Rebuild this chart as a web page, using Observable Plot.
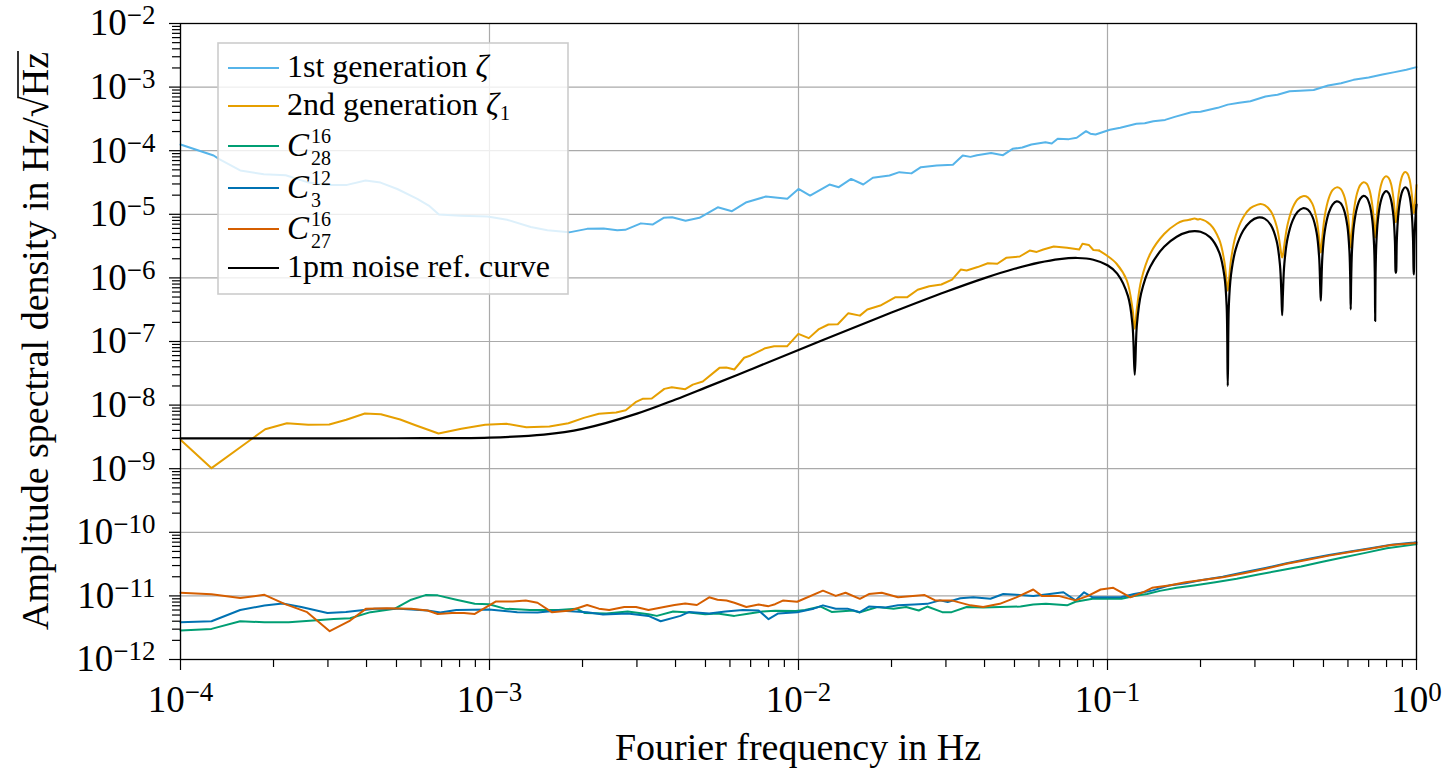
<!DOCTYPE html>
<html><head><meta charset="utf-8">
<script src="https://cdn.jsdelivr.net/npm/d3@7"></script>
<script src="https://cdn.jsdelivr.net/npm/@observablehq/plot@0.6"></script>
<style>
html,body{margin:0;padding:0;background:#fff;}
#chart svg{display:block}
</style></head><body><div id="chart"></div>
<script>
// ---------------- data: [frequency in Hz, ASD in Hz/sqrt(Hz)] ----------------
const gen1 = [[1e-4,1.25e-4],[1.28e-4,8.4e-5],[1.33e-4,7.45e-5],[1.56e-4,4.9e-5],[1.86e-4,4.25e-5],[2.19e-4,4.1e-5],[2.57e-4,3.2e-5],[2.98e-4,2.9e-5],[3.46e-4,2.9e-5],[3.97e-4,3.4e-5],[4.44e-4,3.15e-5],[5.03e-4,2.5e-5],[5.84e-4,1.75e-5],[6.36e-4,1.37e-5],[6.86e-4,9.9e-6],[8.05e-4,9.5e-6],[9.85e-4,9.2e-6],[1.14e-3,8.2e-6],[1.36e-3,6.3e-6],[1.54e-3,5.6e-6],[1.81e-3,5.2e-6],[2.07e-3,5.9e-6],[2.34e-3,6.0e-6],[2.59e-3,5.6e-6],[2.75e-3,5.7e-6],[3.09e-3,7.2e-6],[3.37e-3,6.9e-6],[3.66e-3,8.8e-6],[3.9e-3,9.0e-6],[4.31e-3,7.9e-6],[4.78e-3,8.8e-6],[5.48e-3,1.29e-5],[6.09e-3,1.12e-5],[6.79e-3,1.55e-5],[7.84e-3,1.9e-5],[9.2e-3,1.75e-5],[1.0e-2,2.5e-5],[1.09e-2,1.97e-5],[1.26e-2,2.94e-5],[1.35e-2,2.67e-5],[1.48e-2,3.6e-5],[1.62e-2,2.94e-5],[1.74e-2,3.75e-5],[1.97e-2,4.07e-5],[2.12e-2,4.6e-5],[2.32e-2,4.4e-5],[2.49e-2,5.5e-5],[2.8e-2,5.85e-5],[3.16e-2,6.0e-5],[3.4e-2,8.4e-5],[3.6e-2,8.0e-5],[3.78e-2,8.5e-5],[4.2e-2,9.2e-5],[4.59e-2,8.5e-5],[4.93e-2,1.07e-4],[5.3e-2,1.12e-4],[5.67e-2,1.25e-4],[6.3e-2,1.36e-4],[6.6e-2,1.3e-4],[6.9e-2,1.54e-4],[7.5e-2,1.52e-4],[7.95e-2,1.6e-4],[8.52e-2,2.03e-4],[8.8e-2,1.85e-4],[9.15e-2,1.8e-4],[0.1018,2.13e-4],[0.11,2.3e-4],[0.124,2.65e-4],[0.132,2.7e-4],[0.1407,2.9e-4],[0.1536,3.05e-4],[0.165,3.4e-4],[0.1868,4.03e-4],[0.2,4.1e-4],[0.2274,4.72e-4],[0.245,5.3e-4],[0.267,5.67e-4],[0.29,6.0e-4],[0.3245,7.1e-4],[0.355,7.6e-4],[0.3885,8.6e-4],[0.42,8.8e-4],[0.4647,9.0e-4],[0.5176,1.06e-3],[0.57,1.15e-3],[0.6254,1.3e-3],[0.7,1.42e-3],[0.7758,1.58e-3],[0.85,1.72e-3],[0.9273,1.87e-3],[1.0,2.06e-3]];

// 2nd generation, low-frequency part (linear segments) and high-frequency lobes
const gen2Low = [[1e-4,2.85e-9],[1.26e-4,1.02e-9],[1.88e-4,4.18e-9],[2.21e-4,5.19e-9],[2.59e-4,4.9e-9],[3.03e-4,4.95e-9],[3.44e-4,5.87e-9],[3.95e-4,7.38e-9],[4.45e-4,7.2e-9],[5.14e-4,5.94e-9],[5.76e-4,4.83e-9],[6.84e-4,3.57e-9],[8.11e-4,4.24e-9],[9.68e-4,4.9e-9],[1.135e-3,5.08e-9],[1.316e-3,4.5e-9],[1.563e-3,4.6e-9],[1.8e-3,5.19e-9],[2.02e-3,6.3e-9],[2.26e-3,7.3e-9],[2.57e-3,7.65e-9],[2.76e-3,8.3e-9],[2.97e-3,1.11e-8],[3.14e-3,1.26e-8],[3.35e-3,1.27e-8],[3.68e-3,1.8e-8],[3.89e-3,1.91e-8],[4.3e-3,1.78e-8],[4.55e-3,2.1e-8],[4.9e-3,2.35e-8],[5.55e-3,3.85e-8],[5.84e-3,3.9e-8],[6.2e-3,3.63e-8],[6.67e-3,5.55e-8],[7.0e-3,6.03e-8],[7.8e-3,7.85e-8],[8.34e-3,8.4e-8],[9.18e-3,8.4e-8],[9.99e-3,1.32e-7],[1.08e-2,1.13e-7],[1.16e-2,1.55e-7],[1.25e-2,1.85e-7],[1.34e-2,1.87e-7],[1.45e-2,2.79e-7],[1.58e-2,2.55e-7],[1.67e-2,3.18e-7],[1.84e-2,3.68e-7],[2.06e-2,4.98e-7],[2.25e-2,4.98e-7],[2.43e-2,6.5e-7],[2.65e-2,7.4e-7],[2.9e-2,7.87e-7],[3.14e-2,9.4e-7],[3.35e-2,1.35e-6],[3.5e-2,1.31e-6],[3.8e-2,1.48e-6],[4.1e-2,1.7e-6],[4.4e-2,1.67e-6],[4.7e-2,2.07e-6],[5.2e-2,2.17e-6],[5.6e-2,2.69e-6],[5.9e-2,2.56e-6],[6.2e-2,2.8e-6],[6.7e-2,3.12e-6],[7.4e-2,2.97e-6],[8.1e-2,2.8e-6],[8.3e-2,3.44e-6],[8.7e-2,3.3e-6],[9.0e-2,2.75e-6],[9.4e-2,2.69e-6]];
const gen2High = [[9.4e-2,2.69e-6],[9.95e-2,2.25e-6],[0.107,1.67e-6],[0.1155,9.1e-7],[0.1205,3.27e-7],[0.1225,1.58e-7],
[0.1245,3.31e-7],[0.1285,9.11e-7],[0.1375,2.4e-6],[0.1525,4.9e-6],[0.1675,7.1e-6],[0.176,7.9e-6],[0.18375,8.2e-6],[0.1915,8.6e-6],[0.196,8.3e-6],[0.2,8.4e-6],[0.215,6.9e-6],[0.23,3.98e-6],[0.239,1.78e-6],[0.243,8.5e-7],[0.245,6.3e-7],
[0.247,8.67e-7],[0.251,1.915e-6],[0.26,4.63e-6],[0.275,9.0e-6],[0.29,1.25e-5],[0.30625,1.42e-5],[0.313,1.45e-5],[0.3225,1.39e-5],[0.3375,1.123e-5],[0.3525,6.56e-6],[0.3615,3.34e-6],[0.3655,2.28e-6],[0.3675,2.1e-6],
[0.3695,2.27e-6],[0.3735,3.33e-6],[0.3825,6.83e-6],[0.3975,1.27e-5],[0.4125,1.72e-5],[0.42875,1.93e-5],[0.445,1.85e-5],[0.46,1.47e-5],[0.475,8.45e-6],[0.484,4.19e-6],[0.488,2.74e-6],[0.49,2.5e-6],
[0.492,2.79e-6],[0.496,4.47e-6],[0.505,9.57e-6],[0.52,1.78e-5],[0.535,2.39e-5],[0.55125,2.65e-5],[0.5675,2.53e-5],[0.5825,1.99e-5],[0.5975,1.134e-5],[0.6065,5.43e-6],[0.6105,3.37e-6],[0.6125,3.0e-6],
[0.6145,3.36e-6],[0.6185,5.44e-6],[0.6275,1.166e-5],[0.6425,2.16e-5],[0.6575,2.88e-5],[0.67375,3.2e-5],[0.69,3.03e-5],[0.705,2.38e-5],[0.72,1.362e-5],[0.729,6.86e-6],[0.733,4.66e-6],[0.735,4.3e-6],
[0.737,4.7e-6],[0.741,7.14e-6],[0.75,1.476e-5],[0.765,2.69e-5],[0.78,3.6e-5],[0.79625,3.98e-5],[0.8125,3.75e-5],[0.8275,2.985e-5],[0.8425,1.755e-5],[0.8515,9.96e-6],[0.8555,7.82e-6],[0.8575,7.5e-6],
[0.8595,7.83e-6],[0.8635,1.007e-5],[0.8725,1.824e-5],[0.8875,3.2e-5],[0.9025,4.2e-5],[0.91875,4.62e-5],[0.935,4.36e-5],[0.95,3.515e-5],[0.965,2.117e-5],[0.974,1.294e-5],[0.978,1.08e-5],[0.98,1.05e-5],[0.982,1.08e-5],[0.986,1.3e-5],[0.995,2.17e-5],[1.0,2.9e-5]];

const c28 = [[1e-4,2.86e-12],[1.26e-4,3.03e-12],[1.56e-4,4.0e-12],[1.87e-4,3.85e-12],[2.24e-4,3.85e-12],[2.69e-4,4.1e-12],[3.13e-4,4.35e-12],[3.54e-4,4.45e-12],[4.12e-4,5.55e-12],[4.94e-4,6.3e-12],[5.58e-4,8.7e-12],[6.21e-4,1.03e-11],[6.8e-4,1.02e-11],[7.81e-4,8.7e-12],[8.96e-4,7.5e-12],[9.96e-4,7.4e-12],[1.12e-3,6.3e-12],[1.35e-3,6.0e-12],[1.67e-3,6.0e-12],[1.91e-3,6.3e-12],[2.03e-3,5.4e-12],[2.39e-3,5.3e-12],[2.8e-3,5.7e-12],[3.27e-3,5.15e-12],[3.48e-3,4.85e-12],[3.93e-3,5.7e-12],[4.43e-3,5.5e-12],[4.99e-3,5.15e-12],[5.47e-3,5.3e-12],[6.2e-3,4.85e-12],[6.78e-3,5.2e-12],[7.65e-3,5.7e-12],[8.4e-3,5.85e-12],[9.8e-3,5.8e-12],[1.05e-2,6.0e-12],[1.18e-2,6.8e-12],[1.28e-2,5.6e-12],[1.5e-2,5.9e-12],[1.58e-2,5.5e-12],[1.8e-2,6.7e-12],[2.03e-2,6.3e-12],[2.23e-2,6.7e-12],[2.45e-2,5.9e-12],[2.61e-2,6.8e-12],[2.92e-2,5.55e-12],[3.13e-2,5.55e-12],[3.5e-2,6.7e-12],[3.96e-2,6.6e-12],[4.48e-2,6.7e-12],[5.23e-2,6.8e-12],[5.75e-2,7.3e-12],[6.32e-2,7.5e-12],[7.4e-2,7.1e-12],[7.88e-2,8.1e-12],[8.95e-2,9.0e-12],[0.1017,9.0e-12],[0.111,9.0e-12],[0.1221,1.0e-11],[0.1343,1.07e-11],[0.1477,1.2e-11],[0.1675,1.34e-11],[0.1904,1.46e-11],[0.2233,1.64e-11],[0.262,1.86e-11],[0.3075,2.17e-11],[0.3608,2.5e-11],[0.4232,2.9e-11],[0.4963,3.45e-11],[0.5822,4.05e-11],[0.683,4.75e-11],[0.801,5.6e-11],[0.98,6.4e-11],[1.0,6.5e-11]];

const c3 = [[1e-4,3.85e-12],[1.26e-4,4.0e-12],[1.56e-4,6.0e-12],[1.87e-4,7.06e-12],[2.14e-4,7.6e-12],[2.46e-4,6.7e-12],[2.99e-4,5.4e-12],[3.43e-4,5.6e-12],[4.25e-4,6.3e-12],[5.1e-4,6.3e-12],[6.3e-4,5.9e-12],[6.93e-4,5.5e-12],[7.81e-4,6.0e-12],[9.96e-4,6.1e-12],[1.23e-3,5.55e-12],[1.43e-3,5.5e-12],[1.67e-3,5.9e-12],[2.07e-3,5.55e-12],[2.33e-3,5.1e-12],[2.8e-3,5.3e-12],[3.27e-3,4.85e-12],[3.58e-3,4.0e-12],[4.15e-3,4.85e-12],[4.43e-3,5.6e-12],[5.14e-3,5.3e-12],[5.8e-3,5.7e-12],[6.6e-3,6.0e-12],[7.43e-3,5.9e-12],[8.0e-3,4.3e-12],[8.6e-3,5.3e-12],[9.9e-3,5.55e-12],[1.12e-2,6.3e-12],[1.2e-2,7.1e-12],[1.32e-2,6.3e-12],[1.44e-2,6.3e-12],[1.58e-2,5.55e-12],[1.69e-2,6.8e-12],[1.91e-2,6.6e-12],[2.1e-2,7.1e-12],[2.37e-2,7.3e-12],[2.61e-2,7.5e-12],[2.87e-2,8.5e-12],[3.04e-2,8.0e-12],[3.34e-2,9.2e-12],[3.68e-2,9.5e-12],[4.18e-2,9.0e-12],[4.6e-2,1.07e-11],[5.07e-2,1.04e-11],[5.75e-2,1.0e-11],[6.5e-2,1.07e-11],[7.2e-2,1.14e-11],[7.88e-2,8.5e-12],[8.4e-2,1.14e-11],[8.95e-2,9.5e-12],[9.85e-2,9.5e-12],[0.111,9.6e-12],[0.122,1.07e-11],[0.1394,1.21e-11],[0.158,1.46e-11],[0.179,1.58e-11],[0.2,1.76e-11],[0.236,2.0e-11],[0.2765,2.35e-11],[0.3244,2.75e-11],[0.38,3.25e-11],[0.4446,3.8e-11],[0.521,4.4e-11],[0.61,5.0e-11],[0.71,5.6e-11],[0.83,6.4e-11],[0.98,6.9e-11],[1.0,7.0e-11]];

const c27 = [[1e-4,1.12e-11],[1.26e-4,1.06e-11],[1.56e-4,9.3e-12],[1.87e-4,1.04e-11],[2.17e-4,7.5e-12],[2.57e-4,5.55e-12],[3.04e-4,2.79e-12],[3.54e-4,4.1e-12],[3.99e-4,6.3e-12],[4.65e-4,6.4e-12],[5.58e-4,6.3e-12],[6.3e-4,5.9e-12],[6.8e-4,5.2e-12],[7.56e-4,5.4e-12],[8.27e-4,5.4e-12],[8.96e-4,5.2e-12],[1.05e-3,8.2e-12],[1.19e-3,8.2e-12],[1.31e-3,8.45e-12],[1.43e-3,7.8e-12],[1.59e-3,5.55e-12],[1.83e-3,5.9e-12],[2.07e-3,7.2e-12],[2.26e-3,6.3e-12],[2.44e-3,6.0e-12],[2.73e-3,6.7e-12],[2.98e-3,6.7e-12],[3.27e-3,6.0e-12],[3.67e-3,6.7e-12],[3.97e-3,7.2e-12],[4.3e-3,7.6e-12],[4.69e-3,7.2e-12],[5.14e-3,9.5e-12],[5.47e-3,8.7e-12],[5.85e-3,8.45e-12],[6.2e-3,7.8e-12],[6.78e-3,6.7e-12],[7.43e-3,7.3e-12],[8.0e-3,6.9e-12],[8.4e-3,7.4e-12],[8.9e-3,8.45e-12],[9.9e-3,8.1e-12],[1.2e-2,1.21e-11],[1.32e-2,1.0e-11],[1.42e-2,1.12e-11],[1.58e-2,9.0e-12],[1.69e-2,1.07e-11],[1.86e-2,1.12e-11],[2.1e-2,9.5e-12],[2.56e-2,1.03e-11],[2.77e-2,8.5e-12],[3.13e-2,8.5e-12],[3.6e-2,7.1e-12],[3.96e-2,6.7e-12],[4.48e-2,7.5e-12],[5.07e-2,9.5e-12],[5.75e-2,1.26e-11],[6.13e-2,1.0e-11],[6.94e-2,1.0e-11],[7.88e-2,8.5e-12],[8.65e-2,1.0e-11],[9.5e-2,1.26e-11],[0.1044,1.34e-11],[0.111,1.14e-11],[0.1185,9.5e-12],[0.1302,1.14e-11],[0.1394,1.34e-11],[0.158,1.46e-11],[0.179,1.64e-11],[0.2,1.76e-11],[0.236,1.97e-11],[0.2765,2.27e-11],[0.3244,2.67e-11],[0.38,3.2e-11],[0.4446,3.7e-11],[0.521,4.3e-11],[0.61,4.9e-11],[0.71,5.5e-11],[0.8297,6.3e-11],[0.98,6.75e-11],[1.0,6.8e-11]];

const refCurve = [[1e-4,3.0e-9],[2e-4,3.0e-9],[5e-4,3.01e-9],[1e-3,3.09e-9],[1.5e-3,3.43e-9],[2e-3,4.23e-9],[3e-3,7.34e-9],[4e-3,1.227e-8],[5e-3,1.884e-8],[7e-3,3.63e-8],[1e-2,7.36e-8],[1.5e-2,1.633e-7],[2e-2,2.847e-7],[3e-2,6.05e-7],[4e-2,9.92e-7],[5e-2,1.39e-6],[6e-2,1.739e-6],[7e-2,1.979e-6],[8e-2,2.057e-6],[9e-2,1.933e-6],[0.1,1.579e-6],[0.1075,1.17e-6],[0.1165,5.18e-7],[0.1205,1.79e-7],[0.1225,3.0e-8],
[0.1245,1.852e-7],[0.1285,5.713e-7],[0.1375,1.497e-6],[0.1525,3.078e-6],[0.1675,4.443e-6],[0.18375,5.329e-6],[0.1915,5.44e-6],[0.2,5.305e-6],[0.215,4.339e-6],[0.23,2.504e-6],[0.239,1.0625e-6],[0.243,3.615e-7],[0.245,2.0e-8],
[0.247,3.675e-7],[0.251,1.116e-6],[0.26,2.831e-6],[0.275,5.55e-6],[0.29,7.692e-6],[0.30625,8.881e-6],[0.3225,8.554e-6],[0.3375,6.811e-6],[0.3525,3.838e-6],[0.3615,1.607e-6],[0.3655,5.44e-7],[0.3675,2.6e-7],
[0.3695,5.5e-7],[0.3735,1.66e-6],[0.3825,4.164e-6],[0.3975,8.022e-6],[0.4125,1.0941e-5],[0.42875,1.2434e-5],[0.445,1.1803e-5],[0.46,9.283e-6],[0.475,5.171e-6],[0.484,2.152e-6],[0.488,7.26e-7],[0.49,4.4e-7],
[0.492,7.32e-7],[0.496,2.205e-6],[0.505,5.498e-6],[0.52,1.0494e-5],[0.535,1.419e-5],[0.55125,1.5986e-5],[0.5675,1.5052e-5],[0.5825,1.1756e-5],[0.5975,6.505e-6],[0.6065,2.696e-6],[0.6105,9.08e-7],[0.6125,3.2e-7],
[0.6145,9.14e-7],[0.6185,2.75e-6],[0.6275,6.831e-6],[0.6425,1.2966e-5],[0.6575,1.7439e-5],[0.67375,1.9539e-5],[0.69,1.8301e-5],[0.705,1.4228e-5],[0.72,7.838e-6],[0.729,3.241e-6],[0.733,1.09e-6],[0.735,2.1e-7],
[0.737,1.096e-6],[0.741,3.294e-6],[0.75,8.165e-6],[0.765,1.5439e-5],[0.78,2.0688e-5],[0.79625,2.3091e-5],[0.8125,2.155e-5],[0.8275,1.67e-5],[0.8425,9.172e-6],[0.8515,3.786e-6],[0.8555,1.273e-6],[0.8575,1.2e-6],
[0.8595,1.279e-6],[0.8635,3.839e-6],[0.8725,9.499e-6],[0.8875,1.7911e-5],[0.9025,2.3937e-5],[0.91875,2.6644e-5],[0.935,2.48e-5],[0.95,1.9172e-5],[0.965,1.0506e-5],[0.974,4.33e-6],[0.978,1.455e-6],[0.98,1.13e-6],[0.982,1.461e-6],[0.986,4.383e-6],[0.995,1.0832e-5],[1.0,1.423e-5]];

// ---------------- ticks & labels ----------------
const xMajor = [1e-4, 1e-3, 1e-2, 1e-1, 1];
const yMajor = [1e-12, 1e-11, 1e-10, 1e-9, 1e-8, 1e-7, 1e-6, 1e-5, 1e-4, 1e-3, 1e-2];
const minorFactors = [2, 3, 4, 5, 6, 7, 8, 9];
const xMinor = xMajor.slice(0, -1).flatMap(d => minorFactors.map(k => k * d));
const yMinor = yMajor.slice(0, -1).flatMap(d => minorFactors.map(k => k * d));
const xLabel = "Fourier frequency in Hz";
const yLabelMain = "Amplitude spectral density in Hz/";
const yLabelRoot = "Hz";

const legendText = ["1st generation ", "2nd generation ", "", "", "", "1pm noise ref. curve"];
const legendSymbol = ["ζ", "ζ", "C", "C", "C", ""];
const legendSup = ["", "", "16", "12", "16", ""];
const legendSub = ["", "1", "28", "3", "27", ""];
const colors = {gen1: "#56B4E9", gen2: "#E69F00", c28: "#009E73", c3: "#0072B2", c27: "#D55E00", ref: "#000000"};
const legendColors = [colors.gen1, colors.gen2, colors.c28, colors.c3, colors.c27, colors.ref];

const FONT = "'Liberation Serif','Times New Roman',serif";
const expFmt = d => String(Math.round(Math.log10(d)));
const px = d => d[0], py = d => d[1];

const chart = Plot.plot({
  width: 1450, height: 776,
  marginLeft: 180, marginRight: 34, marginTop: 23, marginBottom: 117,
  style: {fontFamily: FONT, fontSize: "37px", color: "black", background: "white"},
  x: {type: "log", domain: [1e-4, 1]},
  y: {type: "log", domain: [1e-12, 1e-2]},
  marks: [
    Plot.gridX(xMajor, {stroke: "#aaaaaa", strokeOpacity: 1, strokeWidth: 1.2}),
    Plot.gridY(yMajor, {stroke: "#aaaaaa", strokeOpacity: 1, strokeWidth: 1.2}),
    Plot.line(gen1, {x: px, y: py, stroke: colors.gen1, strokeWidth: 2}),
    Plot.line(gen2Low, {x: px, y: py, stroke: colors.gen2, strokeWidth: 2}),
    Plot.line(gen2High, {x: px, y: py, stroke: colors.gen2, strokeWidth: 2, curve: "catmull-rom"}),
    Plot.line(c28, {x: px, y: py, stroke: colors.c28, strokeWidth: 2}),
    Plot.line(c3, {x: px, y: py, stroke: colors.c3, strokeWidth: 2}),
    Plot.line(c27, {x: px, y: py, stroke: colors.c27, strokeWidth: 2}),
    Plot.line(refCurve, {x: px, y: py, stroke: colors.ref, strokeWidth: 2.2, curve: "catmull-rom"}),
    Plot.frame({stroke: "black", strokeWidth: 1.3}),
    Plot.axisX({ticks: xMajor, tickSize: 11, tickPadding: 15, tickFormat: expFmt, label: null, strokeWidth: 1.2}),
    Plot.axisX({ticks: xMinor, tickSize: 8, tickFormat: () => "", label: null, strokeWidth: 1.2}),
    Plot.axisY({ticks: yMajor, tickSize: 11, tickPadding: 14, tickFormat: expFmt, label: null, strokeWidth: 1.2}),
    Plot.axisY({ticks: yMinor, tickSize: 8, tickFormat: () => "", label: null, strokeWidth: 1.2})
  ]
});
document.getElementById("chart").appendChild(chart);

const svg = d3.select(chart);

// tick labels as 10^n with superscript exponent
svg.selectAll('[aria-label="x-axis tick label"] text, [aria-label="y-axis tick label"] text').each(function () {
  const t = this.textContent;
  if (!t) return;
  this.textContent = "";
  const s = d3.select(this);
  s.append("tspan").text("10");
  s.append("tspan").attr("dy", "-11").attr("font-size", 27).text(t.replace("-", "\u2212"));
});

// x axis label
svg.append("text").attr("x", 798).attr("y", 760).attr("text-anchor", "middle")
  .attr("font-family", FONT).attr("font-size", 38).text(xLabel);

// y axis label with radical
const yl = svg.append("g").attr("transform", "translate(48,341) rotate(-90)");
const ylt = yl.append("text").attr("text-anchor", "middle").attr("font-family", FONT).attr("font-size", 38)
  .text(yLabelMain + "\u221A" + yLabelRoot);
const L = ylt.node().getComputedTextLength();
const pre = ylt.node().getSubStringLength(0, yLabelMain.length + 1);
yl.append("line").attr("x1", -L / 2 + pre - 2).attr("x2", L / 2 + 1).attr("y1", -30).attr("y2", -30)
  .attr("stroke", "black").attr("stroke-width", 1.6);

// legend
const lg = svg.append("g").attr("font-family", FONT).attr("text-anchor", "start");
lg.append("rect").attr("x", 218).attr("y", 43).attr("width", 350).attr("height", 251)
  .attr("fill", "white").attr("fill-opacity", 0.8).attr("stroke", "#cccccc").attr("stroke-width", 1.6);
const rowY = [68, 106, 146, 188, 229, 268];
legendText.forEach((txt, i) => {
  const y = rowY[i];
  lg.append("line").attr("x1", 228).attr("x2", 279).attr("y1", y).attr("y2", y)
    .attr("stroke", legendColors[i]).attr("stroke-width", 2.2);
  const isC = legendSymbol[i] === "C";
  const base = y + (isC ? 10 : 9);
  const t = lg.append("text").attr("x", 287).attr("y", base).attr("font-size", isC ? 33 : 32).attr("text-anchor", "start");
  if (txt) t.append("tspan").text(txt);
  if (legendSymbol[i]) t.append("tspan").attr("font-style", "italic").text(legendSymbol[i]);
  const w = t.node().getComputedTextLength();
  const sx = 287 + w + (isC ? 2 : 1);
  if (legendSup[i]) t.append("tspan").attr("x", sx).attr("y", y - 3).attr("font-size", 20).text(legendSup[i]);
  if (legendSub[i]) t.append("tspan").attr("x", sx).attr("y", y + (isC ? 19 : 14)).attr("font-size", 20).text(legendSub[i]);
});
</script></body></html>
